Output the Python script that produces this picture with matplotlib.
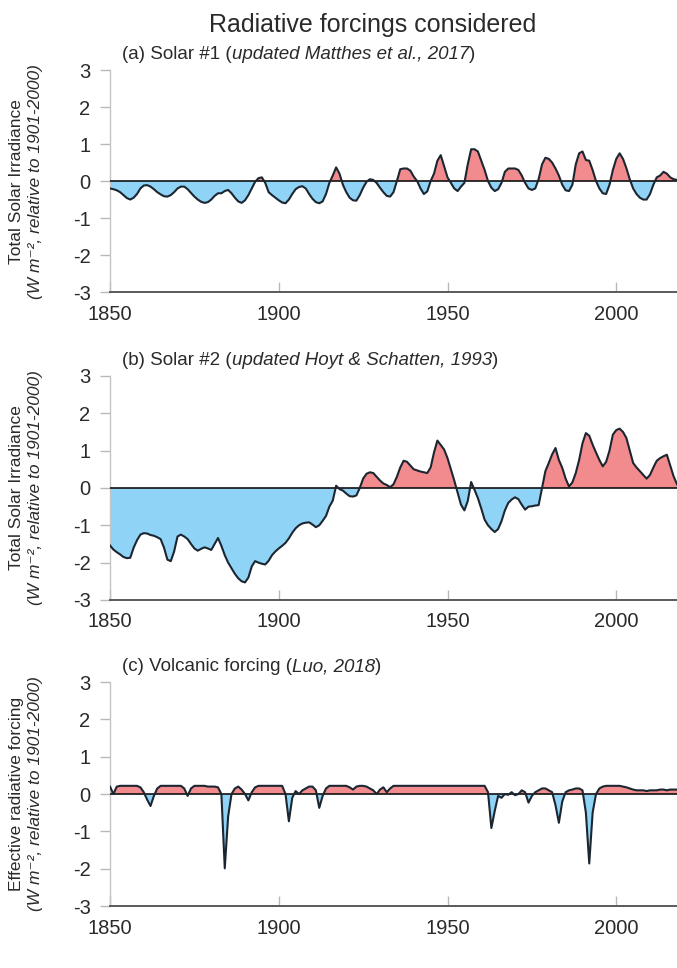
import numpy as np
import matplotlib
matplotlib.use("Agg")
import matplotlib.pyplot as plt

plt.rcParams['font.family'] = ['Liberation Sans', 'DejaVu Sans']
plt.rcParams['axes.unicode_minus'] = False

# Data (annual values, W m-2 relative to 1901-2000)
years = list(range(1850, 2019))

solar1 = [
    -0.2, -0.22, -0.25, -0.3, -0.38, -0.46, -0.5, -0.45, -0.35, -0.2,      # 1850s
    -0.12, -0.11, -0.15, -0.22, -0.3, -0.36, -0.41, -0.42, -0.38, -0.3,    # 1860s
    -0.2, -0.15, -0.15, -0.22, -0.32, -0.42, -0.5, -0.56, -0.59, -0.57,    # 1870s
    -0.5, -0.4, -0.33, -0.33, -0.27, -0.24, -0.33, -0.45, -0.55, -0.59,    # 1880s
    -0.52, -0.38, -0.2, -0.02, 0.08, 0.1, -0.05, -0.3, -0.38, -0.45,       # 1890s
    -0.52, -0.58, -0.6, -0.5, -0.35, -0.22, -0.16, -0.14, -0.2, -0.35,     # 1900s
    -0.48, -0.57, -0.6, -0.55, -0.35, -0.05, 0.15, 0.37, 0.2, -0.1,        # 1910s
    -0.3, -0.45, -0.52, -0.53, -0.38, -0.18, -0.02, 0.05, 0.03, -0.05,     # 1920s
    -0.18, -0.3, -0.4, -0.42, -0.3, 0.0, 0.32, 0.34, 0.34, 0.28,           # 1930s
    0.12, 0.0, -0.2, -0.35, -0.28, 0.0, 0.2, 0.55, 0.7, 0.4,               # 1940s
    0.1, -0.05, -0.2, -0.27, -0.15, -0.05, 0.45, 0.86, 0.86, 0.8,          # 1950s
    0.55, 0.3, 0.0, -0.18, -0.27, -0.22, -0.05, 0.25, 0.34, 0.34,          # 1960s
    0.34, 0.3, 0.15, -0.05, -0.2, -0.24, -0.2, 0.05, 0.45, 0.63,           # 1970s
    0.6, 0.5, 0.34, 0.15, -0.1, -0.25, -0.27, -0.1, 0.45, 0.75,            # 1980s
    0.8, 0.57, 0.55, 0.3, 0.0, -0.2, -0.33, -0.35, -0.1, 0.3,              # 1990s
    0.6, 0.75, 0.6, 0.35, 0.05, -0.2, -0.35, -0.45, -0.5, -0.5,            # 2000s
    -0.35, -0.1, 0.1, 0.15, 0.25, 0.2, 0.1, 0.05, 0.03,                    # 2010s
]

solar2 = [
    -1.54, -1.65, -1.72, -1.78, -1.85, -1.88, -1.87, -1.6, -1.4, -1.25,
    -1.21, -1.22, -1.26, -1.28, -1.32, -1.37, -1.6, -1.92, -1.96, -1.7,
    -1.3, -1.25, -1.3, -1.37, -1.5, -1.62, -1.68, -1.63, -1.59, -1.62,
    -1.66, -1.5, -1.34, -1.55, -1.8, -2.0, -2.15, -2.3, -2.42, -2.5,
    -2.53, -2.4, -2.1, -1.96, -2.0, -2.03, -2.05, -1.95, -1.8, -1.7,
    -1.62, -1.55, -1.47, -1.35, -1.2, -1.08, -1.0, -0.95, -0.93, -0.92,
    -0.98, -1.05, -1.0, -0.88, -0.75, -0.5, -0.34, 0.06, -0.03, -0.07,
    -0.15, -0.22, -0.23, -0.2, 0.0, 0.25, 0.38, 0.42, 0.4, 0.3,
    0.2, 0.12, 0.08, 0.02, 0.1, 0.3, 0.55, 0.73, 0.7, 0.6,
    0.5, 0.47, 0.44, 0.42, 0.4, 0.55, 0.95, 1.27, 1.15, 1.03,
    0.8, 0.5, 0.2, -0.13, -0.45, -0.6, -0.35, 0.16, -0.05, -0.27,
    -0.55, -0.85, -1.0, -1.1, -1.18, -1.1, -0.89, -0.6, -0.4, -0.31,
    -0.25, -0.3, -0.45, -0.58, -0.5, -0.49, -0.47, -0.46, 0.0, 0.45,
    0.67, 0.9, 1.07, 0.75, 0.54, 0.25, 0.04, 0.15, 0.4, 0.75,
    1.2, 1.47, 1.4, 1.16, 0.95, 0.75, 0.58, 0.7, 1.0, 1.43,
    1.55, 1.59, 1.5, 1.34, 1.0, 0.67, 0.55, 0.45, 0.35, 0.25,
    0.35, 0.55, 0.73, 0.8, 0.85, 0.89, 0.6, 0.31, 0.1,
]

volcanic = [
    0.2, 0.0, 0.2, 0.22, 0.22, 0.22, 0.22, 0.22, 0.22, 0.18,
    0.05, -0.15, -0.32, -0.05, 0.15, 0.22, 0.22, 0.22, 0.22, 0.22,
    0.22, 0.22, 0.15, -0.05, 0.15, 0.22, 0.22, 0.22, 0.22, 0.2,
    0.2, 0.2, 0.18, 0.0, -1.99, -0.6, 0.0, 0.15, 0.2, 0.12,
    0.0, -0.17, 0.05, 0.18, 0.22, 0.22, 0.22, 0.22, 0.22, 0.22,
    0.22, 0.22, 0.0, -0.73, -0.1, 0.08, 0.0, 0.1, 0.15, 0.2,
    0.2, 0.1, -0.37, -0.05, 0.15, 0.22, 0.22, 0.22, 0.22, 0.22,
    0.22, 0.18, 0.12, 0.2, 0.22, 0.22, 0.2, 0.15, 0.1, 0.0,
    0.12, 0.18, 0.05, 0.15, 0.22, 0.22, 0.22, 0.22, 0.22, 0.22,
    0.22, 0.22, 0.22, 0.22, 0.22, 0.22, 0.22, 0.22, 0.22, 0.22,
    0.22, 0.22, 0.22, 0.22, 0.22, 0.22, 0.22, 0.22, 0.22, 0.22,
    0.22, 0.22, 0.05, -0.91, -0.45, -0.05, -0.1, 0.0, -0.02, 0.05,
    -0.03, 0.0, 0.1, 0.05, -0.23, -0.05, 0.05, 0.1, 0.15, 0.15,
    0.1, 0.05, -0.3, -0.77, -0.2, 0.05, 0.1, 0.12, 0.15, 0.15,
    0.1, -0.5, -1.86, -0.5, 0.0, 0.15, 0.2, 0.22, 0.22, 0.22,
    0.22, 0.22, 0.2, 0.18, 0.15, 0.12, 0.1, 0.1, 0.1, 0.08,
    0.1, 0.1, 0.1, 0.12, 0.12, 0.1, 0.12, 0.12, 0.12,
]

panel_titles = [
    ("(a) Solar #1 (", "updated Matthes et al., 2017"),
    ("(b) Solar #2 (", "updated Hoyt & Schatten, 1993"),
    ("(c) Volcanic forcing (", "Luo, 2018"),
]
ylabels = ["Total Solar Irradiance", "Total Solar Irradiance", "Effective radiative forcing"]
series = [solar1, solar2, volcanic]

RED = '#f28b8d'
BLUE = '#8fd4f6'
LINE = '#1c2631'
TXT = '#2a2a2a'

fig = plt.figure(figsize=(6.77, 9.68), dpi=100)
# axes boxes [left, bottom, width, height] in figure fractions
boxes = [
    [0.1625, 0.6983, 0.8375, 0.2293],
    [0.1625, 0.3802, 0.8375, 0.2314],
    [0.1625, 0.0640, 0.8375, 0.2314],
]

for box, vals, (t1, t2), ylab in zip(boxes, series, panel_titles, ylabels):
    ax = fig.add_axes(box)
    x = np.array(years)
    y = np.array(vals)
    ax.fill_between(x, y, 0, where=y >= 0, interpolate=True, color=RED, lw=0)
    ax.fill_between(x, y, 0, where=y <= 0, interpolate=True, color=BLUE, lw=0)
    ax.axhline(0, color='#111111', lw=1.2, zorder=3)
    ax.plot(x, y, color=LINE, lw=1.5, zorder=4)

    ax.set_xlim(1850, 2018)
    ax.set_ylim(-3, 3)
    ax.set_yticks([-3, -2, -1, 0, 1, 2, 3])
    ax.set_xticks([1850, 1900, 1950, 2000])
    for s in ['top', 'right']:
        ax.spines[s].set_visible(False)
    ax.spines['left'].set_color('#c4c4c4')
    ax.spines['left'].set_linewidth(1.0)
    ax.spines['bottom'].set_color('#5a5a5a')
    ax.spines['bottom'].set_linewidth(1.4)
    ax.tick_params(axis='y', direction='out', length=7, width=1, color='#b8b8b8',
                   pad=7, labelsize=14.5, labelcolor=TXT)
    ax.tick_params(axis='x', direction='in', length=7, width=1, color='#b8b8b8',
                   pad=9, labelsize=14.5, labelcolor=TXT)

    # panel subtitle: normal part + italic reference + closing bracket
    a1 = ax.text(0.021, 1.03, t1, transform=ax.transAxes, fontsize=13.5, color=TXT,
                 ha='left', va='bottom')
    a2 = ax.annotate(t2, xy=(1, 0), xycoords=a1, fontsize=13.5, color=TXT,
                     style='italic', ha='left', va='bottom')
    ax.annotate(")", xy=(1, 0), xycoords=a2, fontsize=13.5, color=TXT,
                ha='left', va='bottom')

    yc = box[1] + box[3] / 2
    fig.text(0.024, yc, ylab, rotation=90, ha='center', va='center',
             fontsize=12.5, color=TXT)
    fig.text(0.053, yc, "(W m\u207b\u00b2, relative to 1901-2000)", rotation=90,
             ha='center', va='center', fontsize=12.5, color=TXT, style='italic')

fig.text(0.55, 0.967, "Radiative forcings considered", ha='center', va='baseline',
         fontsize=18, color=TXT)

fig.savefig("out.png", dpi=100)
